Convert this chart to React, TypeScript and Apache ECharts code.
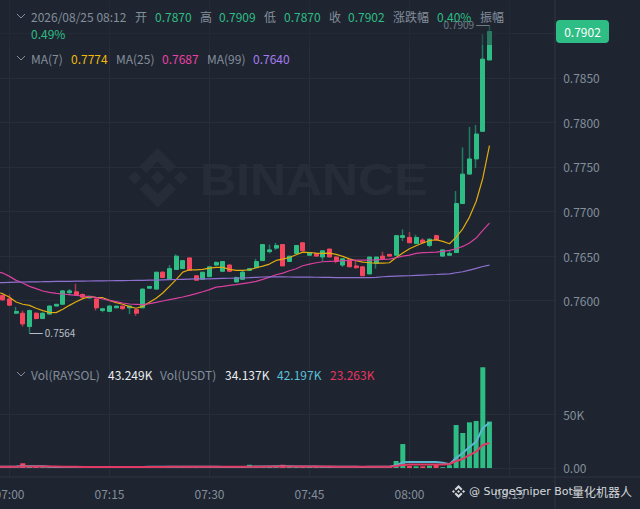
import React, { useEffect, useRef } from "react";
import * as echarts from "echarts";

const categories = [
  "06:58","06:59","07:00","07:01","07:02","07:03","07:04","07:05","07:06","07:07","07:08","07:09","07:10","07:11","07:12",
  "07:13","07:14","07:15","07:16","07:17","07:18","07:19","07:20","07:21","07:22","07:23","07:24","07:25","07:26","07:27",
  "07:28","07:29","07:30","07:31","07:32","07:33","07:34","07:35","07:36","07:37","07:38","07:39","07:40","07:41","07:42",
  "07:43","07:44","07:45","07:46","07:47","07:48","07:49","07:50","07:51","07:52","07:53","07:54","07:55","07:56","07:57",
  "07:58","07:59","08:00","08:01","08:02","08:03","08:04","08:05","08:06","08:07","08:08","08:09","08:10","08:11","08:12",
  "08:13","08:14","08:15","08:16","08:17","08:18","08:19","08:20","08:21","08:22",
];
const axisTimes = ["07:00", "07:15", "07:30", "07:45", "08:00", "08:15"];

// candles from 06:59 to 08:12
const opens = [
  .7606,.7602,.7586,.7586,.7571,.7586,.7580,.7585,.7594,.7596,.7609,.7610,.7607,.7603,.7602,.7589,.7588,.7592,.7594,.7592,
  .7590,.7592,.7614,.7613,.7632,.7624,.7635,.7636,.7648,.7628,.7624,.7627,.7640,.7633,.7640,.7621,.7624,.7634,.7637,.7645,
  .7655,.7659,.7663,.7644,.7653,.7665,.7651,.7653,.7649,.7658,.7649,.7640,.7646,.7639,.7638,.7630,.7642,.7650,.7652,.7651,
  .7671,.7671,.7664,.7668,.7662,.7673,.7650,.7651,.7654,.7709,.7742,.7759,.7790,.7870,
];
const closes = [
  .7601,.7595,.7588,.7574,.7589,.7580,.7586,.7594,.7596,.7611,.7611,.7606,.7604,.7605,.7592,.7591,.7594,.7594,.7591,.7594,
  .7586,.7613,.7616,.7632,.7626,.7636,.7650,.7645,.7634,.7623,.7632,.7638,.7643,.7644,.7633,.7626,.7632,.7636,.7644,.7663,
  .7657,.7662,.7639,.7650,.7662,.7656,.7654,.7650,.7656,.7649,.7644,.7647,.7638,.7637,.7628,.7649,.7649,.7647,.7650,.7673,
  .7673,.7665,.7671,.7665,.7669,.7668,.7657,.7653,.7709,.7742,.7759,.7787,.7871,.7902,
];
const lows = [
  .7600,.7594,.7585,.7571,.7564,.7579,.7580,.7585,.7594,.7596,.7606,.7606,.7603,.7603,.7589,.7587,.7588,.7592,.7590,.7585,
  .7583,.7592,.7614,.7613,.7626,.7624,.7635,.7636,.7634,.7623,.7624,.7627,.7639,.7633,.7633,.7621,.7624,.7634,.7637,.7645,
  .7653,.7657,.7639,.7644,.7653,.7656,.7651,.7650,.7644,.7649,.7642,.7638,.7638,.7636,.7628,.7630,.7636,.7646,.7650,.7651,
  .7667,.7665,.7664,.7665,.7660,.7668,.7650,.7651,.7654,.7709,.7742,.7749,.7790,.7870,
];
const highs = [
  .7607,.7607,.7593,.7589,.7590,.7587,.7587,.7595,.7596,.7612,.7613,.7619,.7608,.7605,.7603,.7591,.7595,.7594,.7594,.7594,
  .7591,.7614,.7616,.7632,.7633,.7640,.7652,.7645,.7648,.7628,.7632,.7638,.7644,.7644,.7641,.7627,.7634,.7636,.7647,.7663,
  .7663,.7665,.7663,.7650,.7662,.7665,.7654,.7653,.7656,.7658,.7650,.7648,.7646,.7645,.7639,.7649,.7649,.7655,.7652,.7673,
  .7680,.7677,.7674,.7670,.7670,.7674,.7657,.7657,.7723,.7772,.7795,.7797,.7899,.7909,
];
// moving averages from 06:58 to 08:12
const ma7 = [
  .76097,.76079,.76038,.75986,.7596,.75948,.75915,.75889,.7587,.75866,.75904,.75948,.75989,.76023,.76045,.76038,.76034,.76004,.75978,.7596,
  .75933,.75915,.75937,.75982,.76027,.76086,.76161,.76236,.76321,.76347,.76347,.76351,.76366,.76374,.76374,.76351,.7634,.7634,.76347,.7637,
  .76388,.76411,.76452,.76467,.76485,.76515,.76545,.76541,.76534,.7653,.76534,.76519,.76497,.7647,.76448,.76433,.76426,.76422,.76422,.76426,
  .76485,.76534,.76582,.76617,.76647,.76673,.76684,.76665,.76639,.76714,.76807,.76938,.77113,.77374,.7774,
];
const ma25 = [
  .76329,.7631,.76273,.76228,.76198,.76161,.76135,.76109,.76094,.76083,.76075,.76068,.7606,.76053,.76045,.76034,.76019,.76004,.75989,.75974,
  .75963,.7596,.75956,.75967,.75982,.75997,.76012,.76027,.76042,.7606,.76079,.76101,.76124,.76153,.76161,.76172,.7618,.76191,.76202,.76217,
  .76239,.76265,.76291,.7631,.76336,.76359,.76392,.76411,.76426,.76437,.76441,.76444,.76448,.76452,.76456,.76456,.76456,.76459,.76463,.76467,
  .76482,.765,.76512,.76531,.76539,.76542,.76546,.76553,.76565,.76583,.76609,.76647,.76703,.76788,.7687,
];
const ma99 = [
  .76202,.76204,.76206,.76208,.7621,.76211,.76212,.76213,.76215,.76216,.76217,.76218,.76219,.7622,.76221,.76222,.76223,.76224,.76225,.76226,
  .76227,.76228,.76228,.7623,.76232,.76234,.76236,.76238,.7624,.76242,.76244,.76245,.76246,.76248,.7625,.76252,.76254,.76255,.76258,.76262,
  .76266,.76269,.76268,.76267,.76266,.76265,.76265,.76264,.76263,.76262,.76261,.7626,.7626,.7626,.7626,.7626,.7626,.76262,.76269,.76272,
  .76275,.76278,.7628,.76284,.76288,.76291,.76294,.76298,.76302,.76314,.76325,.76344,.76362,.76384,.7640,
];
// volume in thousands, from 06:59 to 08:12
const volumes = [
  1.0,1.3,.7,4.4,1.8,1.0,.8,.9,1.0,.9,1.2,.8,1.1,.9,.7,1.3,.8,1.1,.9,.6,
  1.0,1.4,.8,1.3,1.2,1.1,1.4,.9,1.3,.9,1.0,1.2,.8,1.0,.9,.8,.9,3.0,1.4,1.6,
  1.3,1.2,3.0,1.0,1.6,1.3,1.2,1.0,.9,1.4,1.1,.9,1.0,.8,1.1,1.6,1.2,.9,1.0,6.5,
  22.3,2.0,1.6,1.6,2.2,3.0,.8,2.6,40.0,32.6,42.5,43.8,93.8,43.25,
];
// volume averages from 06:58 to 08:12
const volMa5 = [
  1.2,1.2,1.2,1.3,1.6,1.7,1.7,1.6,1.2,1.0,1.0,1.0,1.0,1.0,1.0,1.0,1.0,1.0,1.0,1.0,1.0,
  1.0,1.0,1.1,1.1,1.1,1.2,1.2,1.2,1.2,1.2,1.1,1.1,1.1,1.0,1.0,1.0,1.0,1.2,1.4,1.4,
  1.5,1.6,1.7,1.6,1.4,1.4,1.3,1.3,1.2,1.2,1.2,1.1,1.1,1.1,1.0,1.1,1.2,1.2,1.2,2.5,
  5.3,5.6,5.6,5.6,5.6,5.6,5.0,3.5,9.3,14.0,19.5,24.5,37.2,42.2,
];
const volMa10 = [
  1.2,1.2,1.2,1.2,1.4,1.5,1.5,1.5,1.4,1.3,1.1,1.1,1.1,1.0,1.0,1.0,1.0,1.0,1.0,1.0,1.0,
  1.0,1.0,1.0,1.0,1.0,1.1,1.1,1.1,1.1,1.1,1.1,1.1,1.1,1.1,1.1,1.1,1.1,1.2,1.2,1.2,
  1.3,1.3,1.4,1.4,1.4,1.4,1.4,1.4,1.4,1.3,1.2,1.2,1.2,1.2,1.2,1.2,1.2,1.2,1.2,1.8,
  2.8,3.2,3.2,3.2,3.2,3.2,3.2,3.7,6.5,8.4,12.0,15.2,21.4,23.3,
];
const priceTicks = [0.76, 0.765, 0.77, 0.775, 0.78, 0.785, 0.79];
const volumeTicks = [0, 50000];

const UP = "#2ebd85";
const DOWN = "#f6465d";
const UP_WICK = "#1f7d62";
const DOWN_WICK = "#a83a50";
const BG = "#1e2530";
const GRID = "#272e39";
const GREY = "#848e9c";
const FONT = '"Noto Sans CJK SC", "Noto Sans", sans-serif';
const LOGO =
  "M38.73 53.2l24.59-24.58 24.6 24.6 14.3-14.31L63.32 0 24.43 38.9zM0 63.31l14.3-14.31 14.31 14.31-14.31 14.3zm38.73 10.1l24.59 24.59 24.6-24.6 14.31 14.29-38.9 38.91-38.88-38.88-.01-.01zm59.28-10.09l14.3-14.31 14.3 14.3-14.3 14.31zM77.83 63.3l-14.51-14.52-10.73 10.73-1.24 1.23-2.54 2.54 14.51 14.5 14.51-14.47z";

function label(x: number, y: number, text: string, fill: string) {
  return {
    type: "text", x, y, z: 60, silent: true,
    style: { text, fill, font: `12px ${FONT}`, textVerticalAlign: "middle" },
  };
}
function chevron(x: number, y: number) {
  return {
    type: "polyline", z: 60, silent: true,
    shape: { points: [[x, y], [x + 4, y + 4], [x + 8, y]] },
    style: { stroke: GREY, fill: "none", lineWidth: 1 },
  };
}

export default function App() {
  const ref = useRef<HTMLDivElement>(null);
  useEffect(() => {
    document.body.style.margin = "0";
    document.body.style.background = BG;
    try {
      echarts.graphic.registerShape("binanceLogo", echarts.graphic.extendPath(LOGO as any, {}));
    } catch (e) {}
    const chart = echarts.init(ref.current!, undefined, { renderer: "svg" });
    const blank = ["-", "-", "-", "-"];
    const wickRows: any[] = [blank];
    const bodyRows: any[] = [blank];
    opens.forEach((o, i) => {
      wickRows.push([o, closes[i], lows[i], highs[i]]);
      bodyRows.push([o, closes[i], Math.min(o, closes[i]), Math.max(o, closes[i])]);
    });
    const volRows: any[] = [null];
    volumes.forEach((v, i) =>
      volRows.push({
        value: v * 1000,
        itemStyle: { color: closes[i] >= opens[i] ? UP : DOWN },
      }),
    );
    const k = (a: number[]) => a.map((v) => v * 1000);
    const xBase = {
      type: "category",
      data: categories,
      boundaryGap: false,
      axisLine: { show: false },
      axisTick: { show: false },
      splitLine: {
        show: true,
        interval: (_: number, v: string) => axisTimes.includes(v),
        lineStyle: { color: GRID, width: 1 },
      },
    };
    chart.setOption({
      animation: false,
      backgroundColor: BG,
      textStyle: { fontFamily: FONT },
      grid: [
        { left: -3.87, width: 560, top: 0, height: 360, outerBoundsMode: "none" },
        { left: -3.87, width: 560, top: 360, height: 117, outerBoundsMode: "none" },
      ],
      xAxis: [
        { ...xBase, gridIndex: 0, axisLabel: { show: false } },
        {
          ...xBase,
          gridIndex: 1,
          axisLabel: {
            show: true,
            interval: (_: number, v: string) => axisTimes.includes(v),
            color: GREY,
            fontSize: 12,
            margin: 10,
            fontFamily: FONT,
          },
        },
      ],
      yAxis: [
        {
          type: "value",
          gridIndex: 0,
          position: "right",
          min: 0.75335,
          max: 0.79373,
          axisLine: { show: false },
          axisTick: { show: false, customValues: priceTicks },
          axisLabel: {
            customValues: priceTicks.slice(0, 6),
            color: GREY,
            fontSize: 12,
            margin: 7,
            padding: [0, 0, 3, 0],
            fontFamily: FONT,
            formatter: (v: number) => v.toFixed(4),
            showMinLabel: true,
            showMaxLabel: true,
          },
          splitLine: { show: true, lineStyle: { color: GRID, width: 1 } },
        },
        {
          type: "value",
          gridIndex: 1,
          position: "right",
          min: -8380,
          max: 100559,
          axisLine: { show: false },
          axisTick: { show: false, customValues: volumeTicks },
          axisLabel: {
            customValues: volumeTicks,
            color: GREY,
            fontSize: 12,
            margin: 7,
            padding: [0, 0, 3, 0],
            fontFamily: FONT,
            formatter: (v: number) => (v === 0 ? "0.00" : v / 1000 + "K"),
          },
          splitLine: { show: true, lineStyle: { color: GRID, width: 1 } },
        },
      ],
      series: [
        {
          type: "candlestick",
          xAxisIndex: 0,
          yAxisIndex: 0,
          data: wickRows,
          barWidth: 1,
          itemStyle: { color: UP_WICK, color0: DOWN_WICK, borderColor: UP_WICK, borderColor0: DOWN_WICK, borderWidth: 1.5 },
          markPoint: {
            silent: true,
            symbol: "circle",
            symbolSize: 0,
            data: [
              { coord: ["07:05", 0.7564], label: { position: "right", formatter: "0.7564", distance: 2 } },
              { coord: ["08:10", 0.7909], label: { position: "left", formatter: "0.7909", distance: 2, offset: [0, -1] } },
            ],
            label: { show: true, color: "#b7bdc6", fontSize: 10, fontFamily: FONT },
          },
          markLine: {
            silent: true,
            symbol: "none",
            label: { show: false },
            lineStyle: { color: "#b7bdc6", width: 1, type: "solid" },
            data: [
              [{ coord: ["07:03", 0.7564] }, { coord: ["07:05", 0.7564] }],
              [{ coord: ["08:12", 0.7909] }, { coord: ["08:10", 0.7909] }],
            ],
          },
        },
        {
          type: "candlestick",
          xAxisIndex: 0,
          yAxisIndex: 0,
          data: bodyRows,
          barWidth: 4.6,
          itemStyle: { color: UP, color0: DOWN, borderColor: UP, borderColor0: DOWN, borderWidth: 1 },
        },
        ...[
          { data: ma7, color: "#e0ac10" },
          { data: ma25, color: "#d93f9f" },
          { data: ma99, color: "#8f6fd0" },
        ].map((s) => ({
          type: "line",
          xAxisIndex: 0,
          yAxisIndex: 0,
          data: s.data,
          symbol: "none",
          z: 3,
          lineStyle: { color: s.color, width: 1.2 },
        })),
        {
          type: "bar",
          xAxisIndex: 1,
          yAxisIndex: 1,
          data: volRows,
          barWidth: 5,
          z: 2,
        },
        {
          type: "line",
          xAxisIndex: 1,
          yAxisIndex: 1,
          data: k(volMa5),
          symbol: "none",
          z: 3,
          lineStyle: { color: "#5bb8d0", width: 2 },
        },
        {
          type: "line",
          xAxisIndex: 1,
          yAxisIndex: 1,
          data: k(volMa10),
          symbol: "none",
          z: 4,
          lineStyle: { color: "#e13a64", width: 2 },
        },
      ],
      graphic: [
        {
          type: "binanceLogo", x: 128, y: 148, scaleX: 0.47, scaleY: 0.47, z: 0, silent: true,
          style: { fill: "#272d38" },
        },
        {
          type: "text", x: 200, y: 179, z: 0, scaleX: 1.11, silent: true,
          style: { text: "BINANCE", fill: "#272d38", font: `bold 45px "Liberation Sans"`, textVerticalAlign: "middle" },
        },
        {
          type: "rect", z: 50, silent: true,
          shape: { x: 0, y: 0, width: 512, height: 45 },
          style: { fill: BG, opacity: 0.45 },
        },
        { type: "line", z: 1, silent: true, shape: { x1: 555, y1: 0, x2: 555, y2: 509 }, style: { stroke: "#2e3540", lineWidth: 1 } },
        { type: "line", z: 1, silent: true, shape: { x1: 0, y1: 477, x2: 640, y2: 477 }, style: { stroke: "#2e3540", lineWidth: 1 } },
        chevron(17, 14),
        label(31, 16, "2026/08/25 08:12", GREY),
        label(135, 16, "开", GREY),
        label(155, 16, "0.7870", UP),
        label(200, 16, "高", GREY),
        label(219, 16, "0.7909", UP),
        label(264, 16, "低", GREY),
        label(284, 16, "0.7870", UP),
        label(329, 16, "收", GREY),
        label(348, 16, "0.7902", UP),
        label(393, 16, "涨跌幅", GREY),
        label(437, 16, "0.40%", UP),
        label(480, 16, "振幅", GREY),
        label(31, 33, "0.49%", UP),
        chevron(17, 56),
        label(31, 58, "MA(7)", GREY),
        label(71, 58, "0.7774", "#f0b90b"),
        label(116, 58, "MA(25)", GREY),
        label(162, 58, "0.7687", "#eb40a5"),
        label(207, 58, "MA(99)", GREY),
        label(253, 58, "0.7640", "#a67cf0"),
        chevron(17, 372),
        label(31, 374, "Vol(RAYSOL)", GREY),
        label(108, 374, "43.249K", "#eaecef"),
        label(160, 374, "Vol(USDT)", GREY),
        label(225, 374, "34.137K", "#eaecef"),
        label(277, 374, "42.197K", "#5bc0d8"),
        label(330, 374, "23.263K", "#e8345f"),
        {
          type: "rect", z: 60, silent: true,
          shape: { x: 556, y: 20, width: 53, height: 23, r: 4 },
          style: { fill: UP },
        },
        {
          type: "text", x: 582.5, y: 31.5, z: 61, silent: true,
          style: { text: "0.7902", fill: "#fff", font: `12px ${FONT}`, textAlign: "center", textVerticalAlign: "middle" },
        },
        {
          type: "binanceLogo", x: 452, y: 485, scaleX: 0.103, scaleY: 0.103, z: 62, silent: true,
          style: { fill: "#d5d8dc" },
        },
        {
          type: "text", x: 469, y: 491, z: 62, silent: true,
          style: { text: "@ SurgeSniper Bot", fill: "#d5d8dc", font: `11px "DejaVu Sans"`, textVerticalAlign: "middle" },
        },
        {
          type: "text", x: 572, y: 491, z: 62, silent: true,
          style: { text: "量化机器人", fill: "#d5d8dc", font: `12px "Noto Sans CJK SC"`, textVerticalAlign: "middle" },
        },
      ],
    });
    return () => chart.dispose();
  }, []);
  return <div ref={ref} style={{ width: 640, height: 509 }} />;
}
